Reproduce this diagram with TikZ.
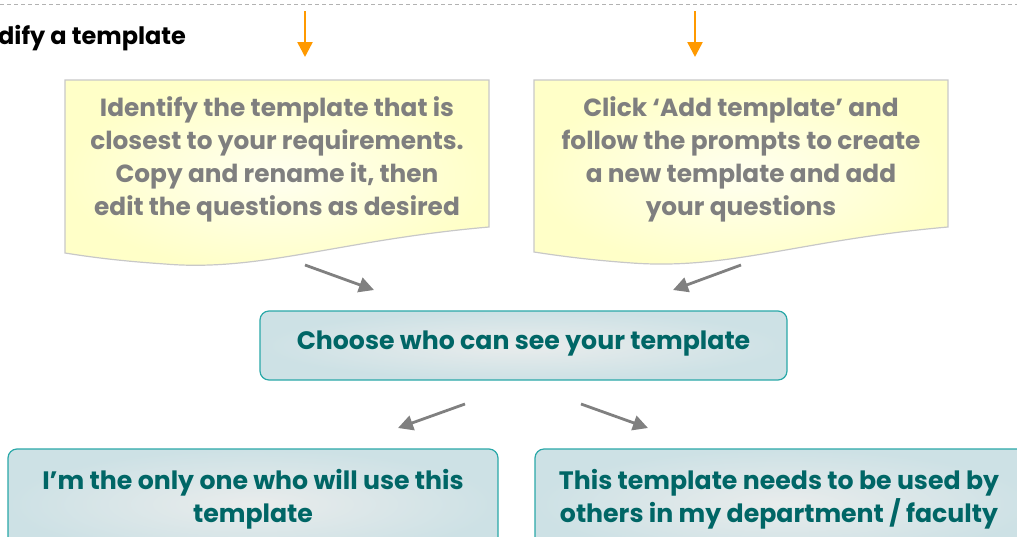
\documentclass[tikz,border=0pt]{standalone}
\usepackage{fontspec}
\setmainfont{Poppins}
\usetikzlibrary{arrows.meta,shapes.misc}
\definecolor{orangearr}{HTML}{FF9900}
\definecolor{grayarr}{HTML}{808080}
\definecolor{docfill}{HTML}{FFFFC8}
\definecolor{docin}{HTML}{FFFFF0}
\definecolor{docline}{HTML}{C8C8C8}
\definecolor{doctext}{HTML}{7F7F7F}
\definecolor{tealline}{HTML}{2AA8A8}
\definecolor{tealtext}{HTML}{006666}
\definecolor{boxout}{HTML}{CDE1E5}
\definecolor{boxin}{HTML}{E9ECEC}
\tikzset{
  orangearrow/.style={draw=orangearr,line width=2.5pt,-{Triangle[length=15pt,width=15pt]}},
  grayarrow/.style={draw=grayarr,line width=2.8pt,-{Triangle[length=15pt,width=15pt]}},
  docshape/.style={draw=docline,line width=1.2pt,shading=radial,inner color=docin,outer color=docfill},
  doctxt/.style={text=doctext,font=\bfseries\fontsize{24.8}{33}\selectfont,align=center},
  tealbox/.style={draw=tealline,line width=1.2pt,rounded corners=9pt,shading=radial,inner color=boxin,outer color=boxout},
  tealtxt/.style={text=tealtext,font=\bfseries\fontsize{25.2}{33}\selectfont,align=center},
}
\begin{document}
\begin{tikzpicture}[x=1pt,y=-1pt]
\useasboundingbox (0,0) rectangle (1017,536);
\draw[draw=gray!60,line width=1pt,dash pattern=on 4pt off 3pt] (0,4) -- (1017,4);
\node[anchor=west,inner sep=0pt,font=\bfseries\fontsize{24}{27}\selectfont] (hdr) at (-2,38) {dify a template};
% orange arrows
\coordinate (oa1) at (305,11); \coordinate (ob1) at (305,57);
\coordinate (oa2) at (695,11); \coordinate (ob2) at (695,57);
\draw[orangearrow] (oa1) -- (ob1);
\draw[orangearrow] (oa2) -- (ob2);
% yellow documents
\path[docshape] (65,80) -- (489,80) -- (489,227) .. controls (340,240) and (260,272) .. (165,264) .. controls (120,261) and (90,257) .. (65,253) -- cycle;
\path[docshape] (534,80) -- (948,80) -- (948,227) .. controls (800,240) and (730,270) .. (632,263) .. controls (590,260) and (560,256) .. (534,252) -- cycle;
\node[doctxt] (docl) at (277,159) {Identify the template that is\\closest to your requirements.\\Copy and rename it, then\\edit the questions as desired};
\node[doctxt] (docr) at (741,159) {Click ‘Add template’ and\\follow the prompts to create\\a new template and add\\your questions};
% middle
\node[tealbox,minimum width=527pt,minimum height=69pt] (mid) at (523.5,345.5) {};
\node[tealtxt] (midt) at (523.5,343.5) {Choose who can see your template};
% bottom boxes
\node[tealbox,minimum width=490pt,minimum height=110pt] (bl) at (253,504) {};
\node[tealtxt] (blt) at (253,499) {I’m the only one who will use this\\template};
\node[tealbox,minimum width=500pt,minimum height=110pt] (br) at (785,504) {};
\node[tealtxt] (brt) at (779,499) {This template needs to be used by\\others in my department / faculty};
% gray arrows
\coordinate (g1a) at (305,265); \coordinate (g1b) at (374,290);
\coordinate (g2a) at (741,265); \coordinate (g2b) at (673,290);
\coordinate (g3a) at (465,404); \coordinate (g3b) at (398,428);
\coordinate (g4a) at (581,404); \coordinate (g4b) at (648,428);
\draw[grayarrow] (g1a) -- (g1b);
\draw[grayarrow] (g2a) -- (g2b);
\draw[grayarrow] (g3a) -- (g3b);
\draw[grayarrow] (g4a) -- (g4b);
\end{tikzpicture}
\end{document}
